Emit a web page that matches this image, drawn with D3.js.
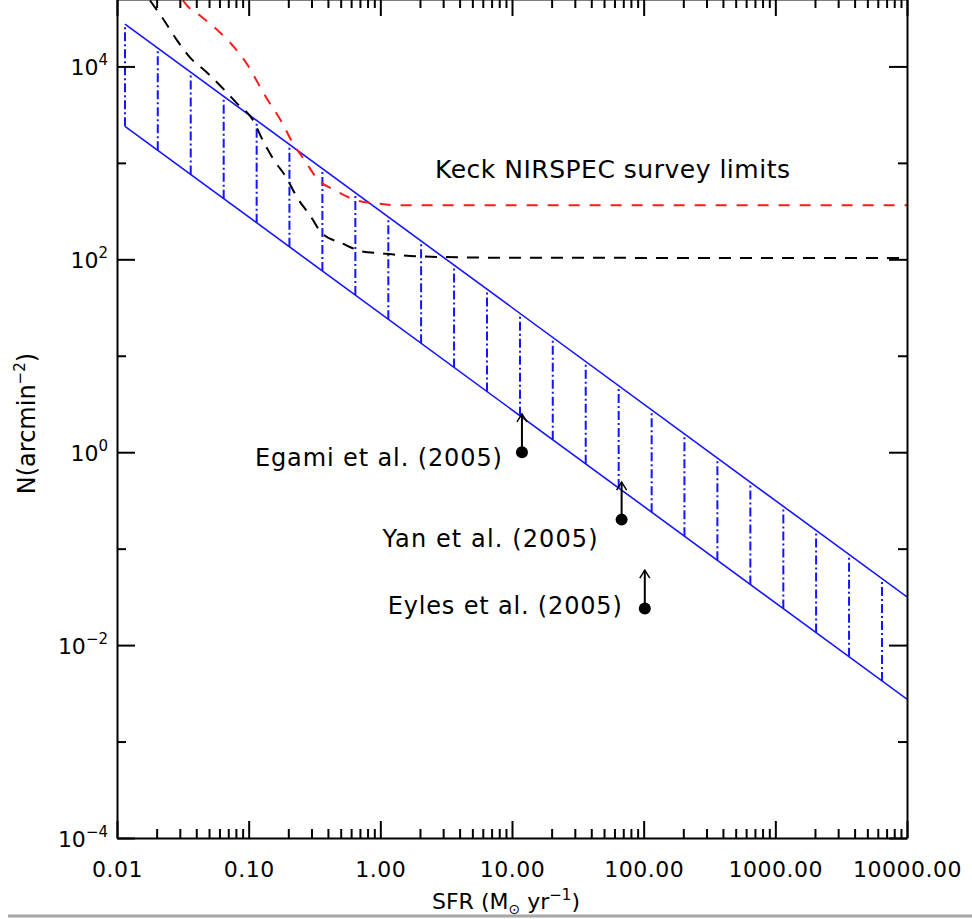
<!DOCTYPE html>
<html>
<head>
<meta charset="utf-8">
<script src="https://cdn.jsdelivr.net/npm/d3@7/dist/d3.min.js"></script>
<style>
  body { margin: 0; background: #fff; }
  svg { display: block; }
  text { font-family: "DejaVu Sans", sans-serif; fill: #000; }
</style>
</head>
<body>
<div id="chart"></div>
<script>
// ---- data ----
// shaded band, N ~ SFR^-1 (two straight edges in log-log)
var bandSfr   = [0.0115, 10000];
var bandUpper = [27500, 0.0316];
var bandLower = [2390, 0.00275];
// SFR of the dash-dot hatch lines
var hatchSfr = [0.0115, 0.0204, 0.0363, 0.0646, 0.115, 0.204, 0.363, 0.646,
                1.15, 2.04, 3.63, 6.46, 11.5, 20.4, 36.3, 64.6,
                115, 204, 363, 646, 1150, 2040, 3630, 6460];

// survey limit curves
var blackSfr = [0.0178, 0.022, 0.0286, 0.0358, 0.0482, 0.0627, 0.0815, 0.108, 0.128, 0.153,
                0.195, 0.233, 0.292, 0.36, 0.511, 0.724, 1.05, 2.0, 8.0, 10000];
var blackN   = [48300, 32200, 18600, 12400, 8660, 6050, 4140, 2760, 1710, 1110,
                690, 439, 286, 186, 147, 121, 115, 107, 104, 103];
var redSfr = [0.0317, 0.034, 0.0427, 0.0605, 0.0815, 0.0988, 0.118, 0.14, 0.179, 0.217,
              0.267, 0.33, 0.452, 0.664, 0.942, 1.41, 10000];
var redN   = [48300, 42800, 33700, 22500, 14600, 10200, 6670, 4450, 2630, 1590,
              1060, 690, 519, 408, 380, 363, 363];

// lower limits from the literature
var limitNames  = ["Egami et al. (2005)", "Yan et al. (2005)", "Eyles et al. (2005)"];
var limitSfr    = [11.9, 68, 102];
var limitN      = [1.0, 0.2, 0.024];
var limitArrowN = [2.5, 0.49, 0.06];

// axes
var xMajor = [0.01, 0.1, 1, 10, 100, 1000, 10000];
var xTickLabels = ["0.01", "0.10", "1.00", "10.00", "100.00", "1000.00", "10000.00"];
var yMajor = [1e-4, 1e-2, 1, 1e2, 1e4];
var yTickExp = ["\u22124", "\u22122", "0", "2", "4"];
var yMinor = [1e-3, 1e-1, 10, 1e3];

// ---- layout ----
var W = 972, H = 919;
var margin = {top: -1, right: 65, bottom: 81, left: 117},
    width = W - margin.left - margin.right,
    height = H - margin.top - margin.bottom;

var root = d3.select("#chart").append("svg")
    .attr("width", W)
    .attr("height", H);

// grey rule at the bottom of the page
root.append("line")
  .attr("x1", 8).attr("x2", W)
  .attr("y1", 916).attr("y2", 916)
  .attr("stroke", "#a6a6a6")
  .attr("stroke-width", 3);

var svg = root.append("g")
    .attr("transform", "translate(" + margin.left + "," + margin.top + ")");

var x = d3.scaleLog().domain([0.01, 10000]).range([0, width]);
var y = d3.scaleLog().domain([1e-4, 5e4]).range([height, 0]);

svg.append("clipPath").attr("id", "plotclip")
  .append("rect").attr("width", width).attr("height", height);

var plot = svg.append("g").attr("clip-path", "url(#plotclip)");

// log-log interpolation along a band edge
function onEdge(vals, s) {
  var t = (Math.log10(s) - Math.log10(bandSfr[0])) / (Math.log10(bandSfr[1]) - Math.log10(bandSfr[0]));
  return Math.pow(10, Math.log10(vals[0]) + t * (Math.log10(vals[1]) - Math.log10(vals[0])));
}

var blue = "#1414ff";

// hatch lines
plot.selectAll(".hatch")
  .data(hatchSfr)
  .enter().append("line")
  .attr("class", "hatch")
  .attr("x1", function(d){ return x(d); })
  .attr("x2", function(d){ return x(d); })
  .attr("y1", function(d){ return y(onEdge(bandLower, d)); })
  .attr("y2", function(d){ return y(onEdge(bandUpper, d)); })
  .attr("stroke", blue)
  .attr("stroke-width", 2)
  .attr("stroke-dasharray", "9,3,2,3");

// band edges
[bandUpper, bandLower].forEach(function(edge){
  plot.append("line")
    .attr("x1", x(bandSfr[0])).attr("y1", y(edge[0]))
    .attr("x2", x(bandSfr[1])).attr("y2", y(edge[1]))
    .attr("stroke", blue)
    .attr("stroke-width", 1.6);
});

var line = d3.line()
  .x(function(d){ return x(d[0]); })
  .y(function(d){ return y(d[1]); })
  .curve(d3.curveMonotoneX);

plot.append("path")
  .datum(d3.zip(blackSfr, blackN))
  .attr("d", line)
  .attr("fill", "none")
  .attr("stroke", "#000")
  .attr("stroke-width", 2)
  .attr("stroke-dasharray", "12,9");

plot.append("path")
  .datum(d3.zip(redSfr, redN))
  .attr("d", line)
  .attr("fill", "none")
  .attr("stroke", "#ff1a1a")
  .attr("stroke-width", 2)
  .attr("stroke-dasharray", "11,10");

// lower limits: dot + upward arrow
var limits = limitNames.map(function(n, i){
  return {name: n, sfr: limitSfr[i], n: limitN[i], top: limitArrowN[i]};
});
// label placement relative to the dot (px) and label widths
var labelOff = [{dx: -20, dy: 14, w: 247}, {dx: -24, dy: 27, w: 215}, {dx: -23, dy: 6, w: 234}];

var lim = svg.selectAll(".limit").data(limits).enter().append("g").attr("class", "limit");
lim.append("line")
  .attr("x1", function(d){ return x(d.sfr); })
  .attr("x2", function(d){ return x(d.sfr); })
  .attr("y1", function(d){ return y(d.n); })
  .attr("y2", function(d){ return y(d.top); })
  .attr("stroke", "#000").attr("stroke-width", 2);
lim.append("path")
  .attr("d", function(d){
    var cx = x(d.sfr), ty = y(d.top);
    return "M" + (cx - 5) + "," + (ty + 8) + "L" + cx + "," + ty + "L" + (cx + 5) + "," + (ty + 8);
  })
  .attr("fill", "none").attr("stroke", "#000").attr("stroke-width", 1.5);
lim.append("circle")
  .attr("cx", function(d){ return x(d.sfr); })
  .attr("cy", function(d){ return y(d.n); })
  .attr("r", 6)
  .attr("fill", "#000");
lim.append("text")
  .attr("x", function(d, i){ return x(d.sfr) + labelOff[i].dx - labelOff[i].w; })
  .attr("y", function(d, i){ return y(d.n) + labelOff[i].dy; })
  .attr("font-size", "24px")
  .attr("textLength", function(d, i){ return labelOff[i].w; })
  .attr("lengthAdjust", "spacing")
  .text(function(d){ return d.name; });

// survey label
svg.append("text")
  .attr("x", x(2.6))
  .attr("y", y(690))
  .attr("font-size", "25px")
  .attr("textLength", 355)
  .attr("lengthAdjust", "spacing")
  .text("Keck NIRSPEC survey limits");

// ---- axes ----
function styleAxis(g) {
  g.select(".domain").attr("stroke", "#000").attr("stroke-width", 2);
  g.selectAll(".tick line").attr("stroke", "#000").attr("stroke-width", 2);
}

var xMinor = [];
xMajor.slice(0, -1).forEach(function(d){
  for (var m = 2; m <= 9; m++) xMinor.push(d * m);
});

// bottom
var gxb = svg.append("g").attr("transform", "translate(0," + height + ")")
  .call(d3.axisBottom(x).tickValues(xMajor).tickSize(-17).tickSizeOuter(0)
        .tickFormat(function(d, i){ return xTickLabels[i]; }));
gxb.selectAll(".tick text")
  .attr("y", 39).attr("dy", 0)
  .attr("font-size", "22px")
  .attr("font-family", "DejaVu Sans")
  .attr("letter-spacing", "0.5px")
  .attr("fill", "#000");
styleAxis(gxb);
svg.append("g").attr("transform", "translate(0," + height + ")")
  .call(d3.axisBottom(x).tickValues(xMinor).tickSize(-9).tickFormat(""))
  .call(styleAxis)
  .select(".domain").remove();

// top
svg.append("g")
  .call(d3.axisTop(x).tickValues(xMajor).tickSize(-17).tickSizeOuter(0).tickFormat(""))
  .call(styleAxis);
svg.append("g")
  .call(d3.axisTop(x).tickValues(xMinor).tickSize(-9).tickFormat(""))
  .call(styleAxis)
  .select(".domain").remove();

// left
svg.append("g")
  .call(d3.axisLeft(y).tickValues(yMajor).tickSize(-18).tickSizeOuter(0).tickFormat(""))
  .call(styleAxis);
svg.append("g")
  .call(d3.axisLeft(y).tickValues(yMinor).tickSize(-9).tickFormat(""))
  .call(styleAxis)
  .select(".domain").remove();

// right
svg.append("g").attr("transform", "translate(" + width + ",0)")
  .call(d3.axisRight(y).tickValues(yMajor).tickSize(-18).tickSizeOuter(0).tickFormat(""))
  .call(styleAxis);
svg.append("g").attr("transform", "translate(" + width + ",0)")
  .call(d3.axisRight(y).tickValues(yMinor).tickSize(-9).tickFormat(""))
  .call(styleAxis)
  .select(".domain").remove();

// y tick labels 10^n
var ylab = svg.selectAll(".ylab").data(yMajor).enter().append("text")
  .attr("class", "ylab")
  .attr("x", -9)
  .attr("y", function(d){ return y(d) + 9; })
  .attr("text-anchor", "end")
  .attr("font-size", "22px");
ylab.append("tspan").text("10");
ylab.append("tspan")
  .attr("dy", -10)
  .attr("font-size", "15px")
  .text(function(d, i){ return yTickExp[i]; });

// axis titles
var xt = svg.append("text")
  .attr("x", x(10) - 80)
  .attr("y", height + 71)
  .attr("font-size", "22px");
xt.append("tspan").text("SFR  (M");
xt.append("tspan").attr("dy", 5).attr("font-size", "14px").text("\u2299");
xt.append("tspan").attr("dy", -5).text(" yr");
xt.append("tspan").attr("dy", -9).attr("font-size", "15px").text("\u22121");
xt.append("tspan").attr("dy", 9).text(")");

var yt = svg.append("text")
  .attr("transform", "translate(" + (-82) + "," + (y(1) + 42) + ") rotate(-90)")
  .attr("font-size", "24px");
yt.append("tspan").text("N(arcmin");
yt.append("tspan").attr("dy", -10).attr("font-size", "15px").text("\u22122");
yt.append("tspan").attr("dy", 10).text(")");
</script>
</body>
</html>
